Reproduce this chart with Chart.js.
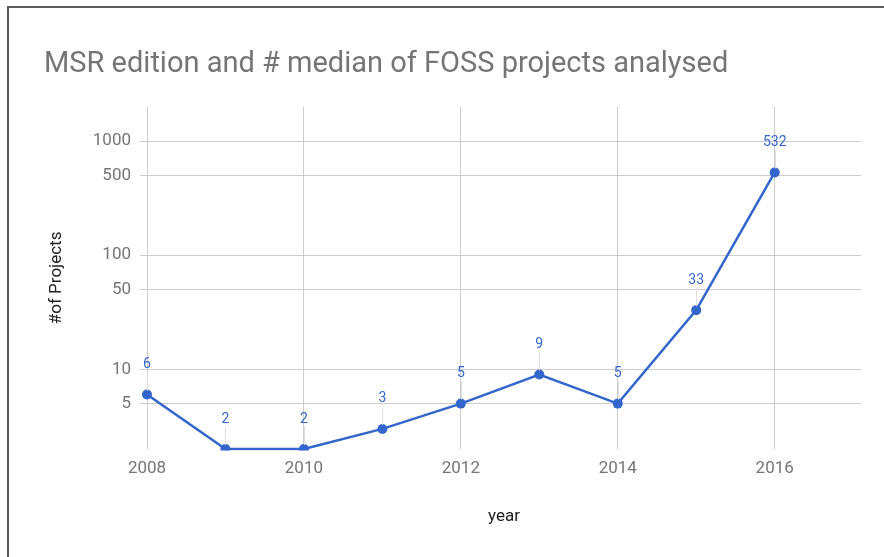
<!DOCTYPE html>
<html>
<head>
<meta charset="utf-8">
<script src="https://cdn.jsdelivr.net/npm/chart.js@4.4.1/dist/chart.umd.min.js"></script>
<style>
  html, body { margin: 0; padding: 0; background: #fff; }
  #wrap { position: relative; width: 884px; height: 557px; }
  #frame {
    position: absolute; left: 7px; top: 6px; right: 0; bottom: 0;
    border-left: 2px solid #5a5a5a; border-top: 2px solid #5a5a5a;
    pointer-events: none;
  }
</style>
</head>
<body>
<div id="wrap">
  <canvas id="grafico" width="884" height="557"></canvas>
  <div id="frame"></div>
</div>
<script>
/* MSR edition vs median number of FOSS projects */

const ANOS = [2008, 2009, 2010, 2011, 2012, 2013, 2014, 2015, 2016];
const PROJETOS = [6, 2, 2, 3, 5, 9, 5, 33, 532];
const TICKS_X = [2008, 2010, 2012, 2014, 2016];
const TICKS_Y = [5, 10, 50, 100, 500, 1000];

const AZUL = '#3366cc';
const CINZA_GRID = '#cccccc';

// rótulos de valor com a "haste" fina até o ponto
const rotulosPlugin = {
  id: 'rotulos',
  afterDatasetsDraw(chart) {
    const ctx = chart.ctx;
    const meta = chart.getDatasetMeta(0);
    ctx.save();
    meta.data.forEach((pt, i) => {
      const yTexto = pt.y - 30;
      ctx.strokeStyle = '#dddddd';
      ctx.lineWidth = 1;
      ctx.beginPath();
      ctx.moveTo(Math.round(pt.x) + 0.5, yTexto + 8);
      ctx.lineTo(Math.round(pt.x) + 0.5, pt.y - 4);
      ctx.stroke();
      ctx.fillStyle = AZUL;
      ctx.font = '14px Roboto';
      ctx.textAlign = 'center';
      ctx.textBaseline = 'middle';
      ctx.fillText(String(PROJETOS[i]), pt.x, yTexto);
    });
    ctx.restore();
  }
};

const ctx = document.getElementById('grafico').getContext('2d');

new Chart(ctx, {
  type: 'line',
  data: {
    datasets: [{
      label: '#of Projects',
      data: ANOS.map((a, i) => ({ x: a, y: PROJETOS[i] })),
      borderColor: AZUL,
      backgroundColor: AZUL,
      borderWidth: 2.5,
      pointRadius: 5,
      pointBackgroundColor: AZUL,
      pointBorderWidth: 0,
      tension: 0,
      clip: { left: 10, top: 10, right: 10, bottom: 1.5 }
    }]
  },
  options: {
    responsive: false,
    animation: false,
    layout: { padding: { left: 44, right: 23, top: 0, bottom: 0 } },
    plugins: {
      legend: { display: false },
      tooltip: { enabled: false },
      title: {
        display: true,
        text: 'MSR edition and # median of FOSS projects analysed',
        align: 'start',
        color: '#757575',
        font: { family: 'Roboto', size: 29, weight: 'normal' },
        padding: { top: 47, bottom: 25 }
      }
    },
    scales: {
      x: {
        type: 'linear',
        min: 2008,
        max: 2017.1,
        afterBuildTicks: s => { s.ticks = TICKS_X.map(v => ({ value: v })); },
        afterFit: s => { s.height = 108; },
        ticks: {
          color: '#757575',
          font: { family: 'Roboto', size: 17 },
          padding: 10,
          callback: v => String(v)
        },
        grid: { color: CINZA_GRID, drawTicks: false },
        border: { display: false },
        title: {
          display: true,
          text: 'year',
          color: '#222222',
          font: { family: 'Roboto', size: 17 },
          padding: { top: 0, bottom: 30 }
        }
      },
      y: {
        type: 'logarithmic',
        min: 2,
        max: 2000,
        afterBuildTicks: s => { s.ticks = TICKS_Y.map(v => ({ value: v })); },
        afterFit: s => { s.width = 103; },
        ticks: {
          color: '#757575',
          font: { family: 'Roboto', size: 17 },
          padding: 9,
          callback: v => String(v)
        },
        grid: { color: CINZA_GRID, drawTicks: true, tickLength: 7 },
        border: { display: false },
        title: {
          display: true,
          text: '#of Projects',
          color: '#222222',
          font: { family: 'Roboto', size: 17 },
          padding: { top: 3, bottom: 0 }
        }
      }
    }
  },
  plugins: [rotulosPlugin]
});
</script>
</body>
</html>
